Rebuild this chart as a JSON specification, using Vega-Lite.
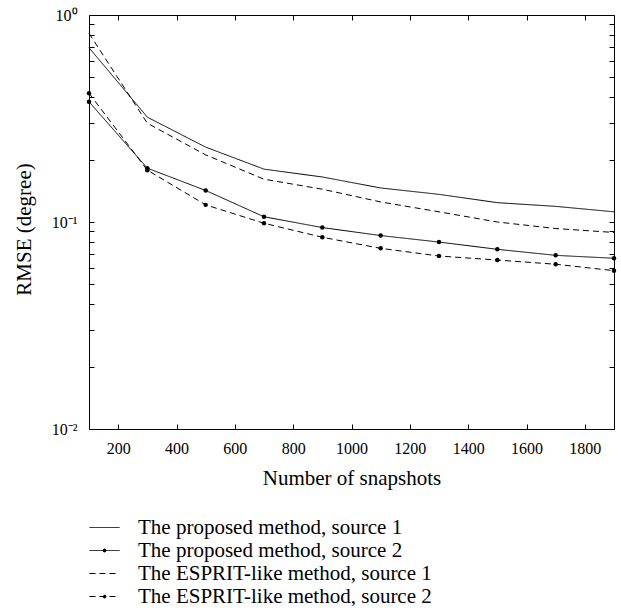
{
  "$schema": "https://vega.github.io/schema/vega-lite/v6.json",
  "width": 525,
  "height": 414,
  "autosize": {"type": "none"},
  "padding": {"left": 89, "top": 15, "right": 7, "bottom": 187},
  "background": "white",
  "config": {
    "view": {"stroke": "black", "strokeWidth": 1},
    "font": "Liberation Serif",
    "axis": {
      "domainColor": "black",
      "tickColor": "black",
      "labelColor": "black",
      "titleColor": "black",
      "labelFont": "Liberation Serif",
      "titleFont": "Liberation Serif",
      "labelFontSize": 16,
      "titleFontSize": 21,
      "titleFontWeight": "normal",
      "grid": false,
      "tickSize": -5,
      "tickWidth": 1
    }
  },
  "data": {
    "values": [
      {"n": 100, "rmse": 0.695, "series": "The proposed method, source 1"},
      {"n": 300, "rmse": 0.321, "series": "The proposed method, source 1"},
      {"n": 500, "rmse": 0.230, "series": "The proposed method, source 1"},
      {"n": 700, "rmse": 0.180, "series": "The proposed method, source 1"},
      {"n": 900, "rmse": 0.165, "series": "The proposed method, source 1"},
      {"n": 1100, "rmse": 0.146, "series": "The proposed method, source 1"},
      {"n": 1300, "rmse": 0.136, "series": "The proposed method, source 1"},
      {"n": 1500, "rmse": 0.124, "series": "The proposed method, source 1"},
      {"n": 1700, "rmse": 0.119, "series": "The proposed method, source 1"},
      {"n": 1900, "rmse": 0.112, "series": "The proposed method, source 1"},
      {"n": 100, "rmse": 0.381, "series": "The proposed method, source 2"},
      {"n": 300, "rmse": 0.182, "series": "The proposed method, source 2"},
      {"n": 500, "rmse": 0.142, "series": "The proposed method, source 2"},
      {"n": 700, "rmse": 0.106, "series": "The proposed method, source 2"},
      {"n": 900, "rmse": 0.094, "series": "The proposed method, source 2"},
      {"n": 1100, "rmse": 0.086, "series": "The proposed method, source 2"},
      {"n": 1300, "rmse": 0.080, "series": "The proposed method, source 2"},
      {"n": 1500, "rmse": 0.0738, "series": "The proposed method, source 2"},
      {"n": 1700, "rmse": 0.069, "series": "The proposed method, source 2"},
      {"n": 1900, "rmse": 0.0668, "series": "The proposed method, source 2"},
      {"n": 100, "rmse": 0.815, "series": "The ESPRIT-like method, source 1"},
      {"n": 300, "rmse": 0.300, "series": "The ESPRIT-like method, source 1"},
      {"n": 500, "rmse": 0.211, "series": "The ESPRIT-like method, source 1"},
      {"n": 700, "rmse": 0.161, "series": "The ESPRIT-like method, source 1"},
      {"n": 900, "rmse": 0.144, "series": "The ESPRIT-like method, source 1"},
      {"n": 1100, "rmse": 0.125, "series": "The ESPRIT-like method, source 1"},
      {"n": 1300, "rmse": 0.112, "series": "The ESPRIT-like method, source 1"},
      {"n": 1500, "rmse": 0.100, "series": "The ESPRIT-like method, source 1"},
      {"n": 1700, "rmse": 0.093, "series": "The ESPRIT-like method, source 1"},
      {"n": 1900, "rmse": 0.089, "series": "The ESPRIT-like method, source 1"},
      {"n": 100, "rmse": 0.419, "series": "The ESPRIT-like method, source 2"},
      {"n": 300, "rmse": 0.178, "series": "The ESPRIT-like method, source 2"},
      {"n": 500, "rmse": 0.121, "series": "The ESPRIT-like method, source 2"},
      {"n": 700, "rmse": 0.0986, "series": "The ESPRIT-like method, source 2"},
      {"n": 900, "rmse": 0.0844, "series": "The ESPRIT-like method, source 2"},
      {"n": 1100, "rmse": 0.0746, "series": "The ESPRIT-like method, source 2"},
      {"n": 1300, "rmse": 0.0685, "series": "The ESPRIT-like method, source 2"},
      {"n": 1500, "rmse": 0.0655, "series": "The ESPRIT-like method, source 2"},
      {"n": 1700, "rmse": 0.0625, "series": "The ESPRIT-like method, source 2"},
      {"n": 1900, "rmse": 0.0582, "series": "The ESPRIT-like method, source 2"}
    ]
  },
  "resolve": {"axis": {"x": "independent", "y": "independent"}},
  "layer": [
    {
      "mark": {"type": "line", "color": "black", "strokeWidth": 1, "clip": false},
      "encoding": {
        "x": {
          "field": "n", "type": "quantitative",
          "scale": {"domain": [100, 1900], "nice": false, "zero": false},
          "axis": {"orient": "bottom", "title": "Number of snapshots", "format": "d", "values": [200, 400, 600, 800, 1000, 1200, 1400, 1600, 1800], "labelPadding": 16, "titlePadding": 11, "domain": false}
        },
        "y": {
          "field": "rmse", "type": "quantitative",
          "scale": {"type": "log", "domain": [0.01, 1], "nice": false},
          "axis": {
            "orient": "left",
            "title": "RMSE (degree)",
            "values": [0.01, 0.02, 0.03, 0.04, 0.05, 0.06, 0.07, 0.08, 0.09, 0.1, 0.2, 0.3, 0.4, 0.5, 0.6, 0.7, 0.8, 0.9, 1],
            "labelExpr": "datum.value == 1 ? '10⁰' : (abs(datum.value - 0.1) < 1e-9 ? '10⁻¹' : (abs(datum.value - 0.01) < 1e-9 ? '10⁻²' : ''))",
            "labelPadding": 17,
            "titlePadding": 17,
            "titleY": 214,
            "labelFlush": false,
            "labelOverlap": false,
            "domain": false
          }
        },
        "strokeDash": {
          "field": "series", "type": "nominal",
          "scale": {
            "domain": ["The proposed method, source 1", "The proposed method, source 2", "The ESPRIT-like method, source 1", "The ESPRIT-like method, source 2"],
            "range": [[1, 0], [1, 0], [6, 4], [6, 4]]
          },
          "legend": {
            "orient": "none",
            "legendX": 5,
            "legendY": 502,
            "title": null,
            "symbolType": "stroke",
            "symbolSize": 100,
            "symbolStrokeWidth": 1,
            "symbolStrokeColor": "black",
            "symbolFillColor": "black",
            "labelFont": "Liberation Serif",
            "labelFontSize": 21,
            "labelColor": "black",
            "labelOffset": 23,
            "rowPadding": 1,
            "labelLimit": 500,
            "encode": {
              "symbols": {
                "update": {
                  "shape": {"signal": "indexof(datum.value, 'source 2') >= 0 ? 'M-3,0H3M0,-0.3A0.3,0.3,0,1,1,0,0.3A0.3,0.3,0,1,1,0,-0.3Z' : 'M-3,0H3'"}
                }
              }
            }
          }
        }
      }
    },
    {
      "transform": [{"filter": "indexof(datum.series, 'source 2') >= 0"}],
      "mark": {"type": "point", "filled": true, "color": "black", "size": 20, "opacity": 1, "clip": false},
      "encoding": {
        "x": {
          "field": "n", "type": "quantitative",
          "axis": {"orient": "top", "title": null, "labels": false, "values": [200, 400, 600, 800, 1000, 1200, 1400, 1600, 1800], "domain": false}
        },
        "y": {
          "field": "rmse", "type": "quantitative",
          "axis": {
            "orient": "right", "title": null, "labels": false, "domain": false,
            "values": [0.01, 0.02, 0.03, 0.04, 0.05, 0.06, 0.07, 0.08, 0.09, 0.1, 0.2, 0.3, 0.4, 0.5, 0.6, 0.7, 0.8, 0.9, 1]
          }
        }
      }
    }
  ]
}
